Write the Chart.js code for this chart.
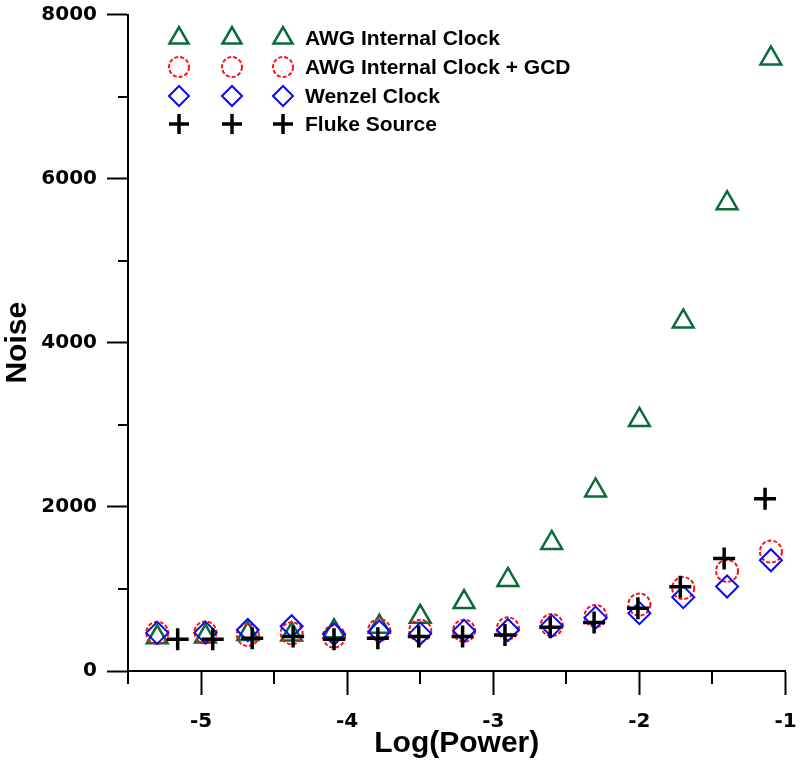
<!DOCTYPE html>
<html>
<head>
<meta charset="utf-8">
<script src="https://cdn.jsdelivr.net/npm/chart.js"></script>
<style>
  body { margin: 0; background: #fff; }
  canvas { display: block; }
</style>
</head>
<body>
<canvas id="myChart" width="800" height="766"></canvas>
<script>
// Log(Power) positions
const xMain = [-5.3, -4.97, -4.68, -4.38, -4.09, -3.78, -3.5, -3.2, -2.9, -2.6, -2.3, -2.0, -1.7, -1.4, -1.1];
const xFluke = [-5.16, -4.92, -4.65, -4.37, -4.09, -3.79, -3.51, -3.21, -2.92, -2.61, -2.31, -2.01, -1.72, -1.42, -1.14];

// Noise
const awgInternal = [410, 420, 450, 445, 485, 540, 660, 840, 1110, 1560, 2200, 3060, 4260, 5700, 7465];
const awgGcd = [465, 470, 440, 460, 420, 500, 490, 490, 520, 560, 670, 810, 1010, 1220, 1455];
const wenzel = [465, 468, 500, 545, 450, 480, 455, 490, 500, 550, 650, 705, 900, 1030, 1350];
const fluke = [386, 386, 398, 419, 386, 398, 419, 419, 440, 533, 590, 765, 1028, 1370, 2100];

const xTicks = [-5, -4, -3, -2, -1];
const xMinorTicks = [-5.5, -4.5, -3.5, -2.5, -1.5];
const yTicks = [0, 2000, 4000, 6000, 8000];
const yMinorTicks = [1000, 3000, 5000, 7000];

const seriesNames = ['AWG Internal Clock', 'AWG Internal Clock + GCD', 'Wenzel Clock', 'Fluke Source'];

const TICK_FONT = 'DejaVu Sans';
const TEXT_FONT = 'Liberation Sans';

function toPoints(xs, ys) {
    return xs.map((x, i) => ({ x: x, y: ys[i] }));
}

// minor ticks on both axes
const minorTicks = {
    id: 'minorTicks',
    afterDraw(chart) {
        const ctx = chart.ctx;
        const xs = chart.scales.x;
        const ys = chart.scales.y;
        const area = chart.chartArea;
        ctx.save();
        ctx.strokeStyle = '#000';
        ctx.lineWidth = 2;
        ctx.beginPath();
        xMinorTicks.forEach(v => {
            const px = Math.round(xs.getPixelForValue(v));
            ctx.moveTo(px, area.bottom);
            ctx.lineTo(px, area.bottom + 13);
        });
        yMinorTicks.forEach(v => {
            const py = Math.round(ys.getPixelForValue(v));
            ctx.moveTo(area.left, py);
            ctx.lineTo(area.left - 10, py);
        });
        ctx.stroke();
        ctx.restore();
    }
};

// dashed outline for the GCD circles
const dashedCircles = {
    id: 'dashedCircles',
    beforeDatasetDraw(chart, args) {
        if (args.index === 1) chart.ctx.setLineDash([4, 2]);
    },
    afterDatasetDraw(chart, args) {
        if (args.index === 1) chart.ctx.setLineDash([]);
    }
};

// legend with three symbols per row, like the original
const tripleLegend = {
    id: 'tripleLegend',
    afterDraw(chart) {
        const ctx = chart.ctx;
        const symbolX = [179, 232, 283];
        const rowY = [38, 67, 96, 124];
        ctx.save();
        chart.data.datasets.forEach((ds, i) => {
            symbolX.forEach(x => {
                ctx.save();
                ctx.strokeStyle = ds.borderColor;
                ctx.fillStyle = 'rgba(0,0,0,0)';
                ctx.lineWidth = ds.borderWidth;
                if (i === 1) ctx.setLineDash([4, 2]);
                Chart.helpers.drawPoint(ctx, {
                    pointStyle: ds.pointStyle,
                    radius: ds.pointRadius - 1,
                    rotation: 0,
                    borderWidth: ds.borderWidth
                }, x, rowY[i]);
                ctx.restore();
            });
            ctx.fillStyle = '#000';
            ctx.font = 'bold 21px "' + TEXT_FONT + '"';
            ctx.textBaseline = 'middle';
            ctx.textAlign = 'left';
            ctx.fillText(ds.label, 305, rowY[i] + 1.5);
        });
        ctx.restore();
    }
};

const ctx = document.getElementById('myChart');

const myChart = new Chart(ctx, {
    type: 'scatter',
    data: {
        datasets: [{
            label: seriesNames[0],
            data: toPoints(xMain, awgInternal),
            pointStyle: 'triangle',
            pointRadius: 12,
            borderColor: '#0b6a3a',
            backgroundColor: 'rgba(0,0,0,0)',
            borderWidth: 2.5,
            order: 4
        }, {
            label: seriesNames[1],
            data: toPoints(xMain, awgGcd),
            pointStyle: 'circle',
            pointRadius: 11,
            borderColor: '#ff1010',
            backgroundColor: 'rgba(0,0,0,0)',
            borderWidth: 2,
            order: 3
        }, {
            label: seriesNames[2],
            data: toPoints(xMain, wenzel),
            pointStyle: 'rectRot',
            pointRadius: 11,
            borderColor: '#0a0af0',
            backgroundColor: 'rgba(0,0,0,0)',
            borderWidth: 2,
            order: 2
        }, {
            label: seriesNames[3],
            data: toPoints(xFluke, fluke),
            pointStyle: 'cross',
            pointRadius: 11,
            borderColor: '#000',
            backgroundColor: 'rgba(0,0,0,0)',
            borderWidth: 3.5,
            order: 1
        }]
    },
    options: {
        responsive: false,
        animation: false,
        events: [],
        layout: {
            padding: { left: 0, top: 13, right: 12, bottom: 0 }
        },
        scales: {
            x: {
                type: 'linear',
                min: -5.5,
                max: -1,
                afterBuildTicks: s => { s.ticks = xTicks.map(v => ({ value: v })); },
                afterFit: s => {
                    s.height = 95;
                    s.paddingLeft = 0;
                    s.paddingRight = 0;
                },
                ticks: {
                    color: '#000',
                    padding: 15,
                    maxRotation: 0,
                    font: { family: TICK_FONT, size: 20, weight: 'bold' },
                    callback: v => String(v)
                },
                grid: {
                    drawOnChartArea: false,
                    tickLength: 24,
                    tickWidth: 2,
                    tickColor: '#000'
                },
                border: { color: '#000', width: 2 },
                title: {
                    display: true,
                    text: 'Log(Power)',
                    color: '#000',
                    font: { family: TEXT_FONT, size: 30, weight: 'bold' },
                    padding: { top: 0, bottom: 4 }
                }
            },
            y: {
                type: 'linear',
                min: 0,
                max: 8000,
                afterBuildTicks: s => { s.ticks = yTicks.map(v => ({ value: v })); },
                afterFit: s => {
                    s.width = 128;
                    s.paddingTop = 0;
                    s.paddingBottom = 0;
                },
                ticks: {
                    color: '#000',
                    padding: 10,
                    font: { family: TICK_FONT, size: 20, weight: 'bold' },
                    callback: v => String(v)
                },
                grid: {
                    drawOnChartArea: false,
                    tickLength: 21,
                    tickWidth: 2,
                    tickColor: '#000'
                },
                border: { color: '#000', width: 2 },
                title: {
                    display: true,
                    text: 'Noise',
                    color: '#000',
                    font: { family: TEXT_FONT, size: 30, weight: 'bold' },
                    padding: { top: 0, bottom: 0 }
                }
            }
        },
        plugins: {
            legend: { display: false },
            tooltip: { enabled: false }
        }
    },
    plugins: [minorTicks, dashedCircles, tripleLegend]
});
</script>
</body>
</html>
